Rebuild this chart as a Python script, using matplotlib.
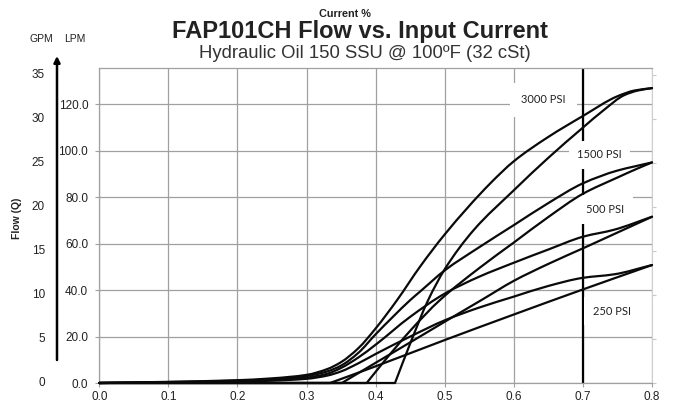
import matplotlib
matplotlib.use("Agg")
import numpy as np
import matplotlib.pyplot as plt
from matplotlib.path import Path
from matplotlib.patches import PathPatch
from matplotlib.transforms import blended_transform_factory

plt.rcParams['font.family'] = ['Liberation Sans', 'DejaVu Sans']

# ---------------- data ----------------
# current (fraction) and flow (LPM); "up" = upper (decreasing-current) branch,
# "dn" = lower (increasing-current) branch
cur_3000_up = [0, 0.1, 0.2, 0.25, 0.3, 0.33, 0.35, 0.375, 0.4, 0.431, 0.464, 0.5, 0.566, 0.6, 0.65, 0.7, 0.75, 0.775, 0.8]
flow_3000_up = [0, 0.5, 1.2, 2.0, 3.5, 6.0, 9.0, 15.0, 23.5, 35.7, 50.0, 64.0, 86.0, 95.5, 106.0, 115.0, 123.5, 126.0, 127.0]

cur_3000_dn = [0, 0.3, 0.428, 0.45, 0.476, 0.5, 0.542, 0.6, 0.65, 0.7, 0.73, 0.76, 0.78, 0.8]
flow_3000_dn = [0, 0, 0, 17.0, 35.7, 49.0, 65.9, 83.0, 97.0, 110.0, 117.5, 124.0, 126.0, 127.0]

cur_1500_up = [0, 0.1, 0.2, 0.25, 0.3, 0.33, 0.35, 0.375, 0.4, 0.425, 0.45, 0.464, 0.5, 0.55, 0.6, 0.65, 0.7, 0.75, 0.775, 0.8]
flow_1500_up = [0, 0.4, 1.0, 1.7, 3.0, 5.0, 7.5, 13.0, 21.0, 28.5, 35.7, 39.3, 48.5, 58.5, 68.0, 77.5, 86.0, 91.5, 93.3, 95.0]

cur_1500_dn = [0, 0.3, 0.387, 0.41, 0.45, 0.493, 0.55, 0.6, 0.65, 0.7, 0.75, 0.78, 0.8]
flow_1500_dn = [0, 0, 0, 8.5, 22.5, 35.7, 49.5, 60.5, 71.5, 81.5, 88.5, 92.5, 95.0]

cur_500_up = [0, 0.1, 0.2, 0.25, 0.3, 0.33, 0.35, 0.375, 0.4, 0.45, 0.5, 0.55, 0.6, 0.65, 0.7, 0.745, 0.8]
flow_500_up = [0, 0.3, 0.8, 1.3, 2.3, 4.0, 6.5, 11.0, 16.5, 28.5, 38.5, 45.8, 51.8, 57.5, 63.0, 66.0, 71.6]

cur_500_dn = [0, 0.3, 0.351, 0.4, 0.45, 0.508, 0.553, 0.6, 0.65, 0.7, 0.75, 0.8]
flow_500_dn = [0, 0, 0, 8.7, 17.5, 27.8, 35.7, 44.0, 51.3, 58.0, 64.8, 71.6]

cur_250_up = [0, 0.1, 0.2, 0.25, 0.3, 0.33, 0.35, 0.375, 0.4, 0.45, 0.5, 0.55, 0.6, 0.65, 0.7, 0.745, 0.8]
flow_250_up = [0, 0.2, 0.6, 1.0, 1.8, 3.2, 5.0, 8.5, 12.5, 20.0, 27.0, 32.5, 37.2, 41.8, 45.3, 46.8, 50.8]

cur_250_dn = [0, 0.3, 0.334, 0.4, 0.5, 0.6, 0.7, 0.8]
flow_250_dn = [0, 0, 0, 7.2, 18.5, 29.5, 40.3, 50.8]

x_ticks = [0.0, 0.1, 0.2, 0.3, 0.4, 0.5, 0.6, 0.7, 0.8]
lpm_ticks = [0, 20, 40, 60, 80, 100, 120]
gpm_ticks = [0, 5, 10, 15, 20, 25, 30, 35]
LPM_PER_GPM = 3.785

pressure_labels = ['3000 PSI', '1500 PSI', '500 PSI', '250 PSI']
label_cur = [0.643, 0.724, 0.732, 0.742]
label_flow = [121.9, 98.2, 74.8, 31.0]
label_pad = [1.05, 0.75, 0.8, 0.8]
marker_current = 0.7


def smooth_path(xs, ys):
    """Drawing path through the given points: flat leading run drawn straight,
    the rest as a monotone cubic Bezier (smoothed line, as in the source chart)."""
    x = np.asarray(xs, float)
    y = np.asarray(ys, float)
    start = 0
    while start + 1 < len(y) and y[start + 1] == 0 and y[start] == 0:
        start += 1
    verts = [(x[0], y[0])]
    codes = [Path.MOVETO]
    if start > 0:
        verts.append((x[start], y[start]))
        codes.append(Path.LINETO)
    x, y = x[start:], y[start:]
    h = np.diff(x)
    d = np.diff(y) / h
    n = len(x)
    m = np.zeros(n)
    m[0], m[-1] = d[0], d[-1]
    for k in range(1, n - 1):
        if d[k - 1] * d[k] <= 0:
            m[k] = 0.0
        else:
            w1 = 2 * h[k] + h[k - 1]
            w2 = h[k] + 2 * h[k - 1]
            m[k] = (w1 + w2) / (w1 / d[k - 1] + w2 / d[k])
    for k in range(n - 1):
        verts += [(x[k] + h[k] / 3, y[k] + m[k] * h[k] / 3),
                  (x[k + 1] - h[k] / 3, y[k + 1] - m[k + 1] * h[k] / 3),
                  (x[k + 1], y[k + 1])]
        codes += [Path.CURVE4] * 3
    return Path(verts, codes)


# ---------------- figure ----------------
W, H = 673, 408
fig = plt.figure(figsize=(W / 100, H / 100), dpi=100)
ax = fig.add_axes([99.3 / W, 1 - 383 / H, (652 - 99.3) / W, (383 - 67.7) / H])

ax.set_xlim(0, 0.8)
ax.set_ylim(0, 135.8)

grid_c = '#a0a0a0'
ax.set_xticks(x_ticks)
ax.set_xticklabels([f'{v:.1f}' for v in x_ticks])
ax.set_yticks(lpm_ticks)
ax.set_yticklabels([f'{v:.1f}' for v in lpm_ticks])
ax.grid(True, color=grid_c, lw=0.9)
ax.set_axisbelow(True)
ax.tick_params(axis='both', length=3, width=0.8, color=grid_c, labelsize=8.5,
               labelcolor='#222222')
ax.tick_params(axis='y', pad=5)
ax.tick_params(axis='x', pad=3)
for s in ['left', 'bottom', 'top']:
    ax.spines[s].set_color(grid_c)
    ax.spines[s].set_linewidth(0.9)
ax.spines['right'].set_color('#d0d0d0')
ax.spines['right'].set_linewidth(0.8)

# right-hand GPM ticks (no labels)
sec = ax.secondary_yaxis('right', functions=(lambda q: q / LPM_PER_GPM,
                                             lambda g: g * LPM_PER_GPM))
sec.set_yticks(gpm_ticks)
sec.set_yticklabels([])
sec.tick_params(length=3, width=0.8, color='#c8c8c8')
sec.spines['right'].set_visible(False)

# vertical marker line at 0.7
ax.axvline(marker_current, color='black', lw=1.6, zorder=2)

# curves
curves = [
    (cur_3000_up, flow_3000_up), (cur_3000_dn, flow_3000_dn),
    (cur_1500_up, flow_1500_up), (cur_1500_dn, flow_1500_dn),
    (cur_500_up, flow_500_up), (cur_500_dn, flow_500_dn),
    (cur_250_up, flow_250_up), (cur_250_dn, flow_250_dn),
]
for cx, cy in curves:
    ax.add_patch(PathPatch(smooth_path(cx, cy), fill=False, ec='#0a0a0a',
                           lw=1.6, zorder=4, clip_on=False, capstyle='round',
                           joinstyle='round'))

# pressure labels with white boxes
for txt, lx, ly, p in zip(pressure_labels, label_cur, label_flow, label_pad):
    ax.text(lx, ly, txt, ha='center', va='center', fontsize=8, family='Lato',
            color='#222222', zorder=3,
            bbox=dict(boxstyle=f'square,pad={p}', fc='white', ec='none'))

# GPM labels on the left
tr = blended_transform_factory(fig.transFigure, ax.transData)
for g in gpm_ticks:
    fig.text(45 / W, g * LPM_PER_GPM, f'{g}', transform=tr, ha='right', va='center',
             fontsize=8.5, color='#222222')

# headers
fig.text(41.5 / W, 1 - 39.3 / H, 'GPM', ha='center', va='center', fontsize=7.5,
         color='#222222')
fig.text(74.5 / W, 1 - 39.3 / H, 'LPM', ha='center', va='center', fontsize=7.5,
         color='#222222')
fig.text(17 / W, 1 - 218 / H, 'Flow (Q)', rotation=90, ha='center', va='center',
         fontsize=7.5, fontweight='bold', color='#222222')

# arrow
ax.annotate('', xy=(57 / W, 1 - 56 / H), xytext=(57 / W, 1 - 360 / H),
            xycoords='figure fraction', textcoords='figure fraction',
            arrowprops=dict(arrowstyle='-|>', lw=1.8, color='black',
                            mutation_scale=9, shrinkA=0, shrinkB=0))

# titles
fig.text(345 / W, 1 - 17.3 / H, 'Current %', ha='center', va='baseline',
         fontsize=7.8, fontweight='bold', color='#222222')
fig.text(360 / W, 1 - 38.3 / H, 'FAP101CH Flow vs. Input Current', ha='center',
         va='baseline', fontsize=17, fontweight='bold', color='#222222')
fig.text(365 / W, 1 - 58.3 / H, 'Hydraulic Oil 150 SSU @ 100ºF (32 cSt)',
         ha='center', va='baseline', fontsize=13.3, color='#333333')

fig.savefig('out.png', dpi=100)
